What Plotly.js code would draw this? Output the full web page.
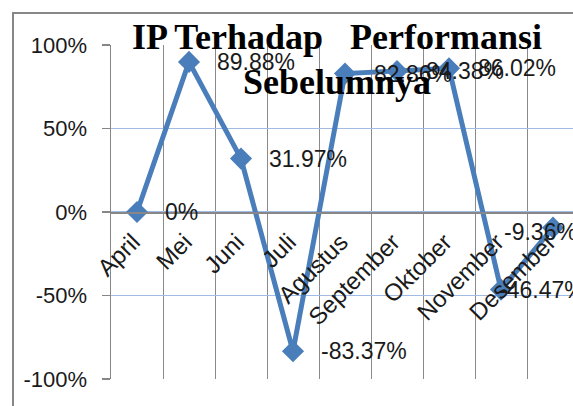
<!DOCTYPE html>
<html>
<head>
<meta charset="utf-8">
<script src="https://cdn.plot.ly/plotly-3.0.1.min.js"></script>
<style>
  html, body { margin: 0; padding: 0; background: #ffffff; overflow: hidden; }
  #chart { width: 600px; height: 406px; }
</style>
</head>
<body>
<div id="chart"></div>
<script>
// ---- data ----
var months = ["April", "Mei", "Juni", "Juli", "Agustus", "September", "Oktober", "November", "Desember"];
var ipValues = [0, 89.88, 31.97, -83.37, 82.86, 84.38, 86.02, -46.47, -9.36]; // percent
var yTickValues = [-100, -50, 0, 50, 100];
var titleLine1 = "IP Terhadap&nbsp;&nbsp;&nbsp;Performansi";
var titleLine2 = "Sebelumnya";

// ---- label placement (layout only) ----
var labelDx = [26, 26, 26, 26, 27, 27, 27, -4, -51];
var labelDy = [0, 0, 0, 0, 0, 0, 0, 0, 4];

var yFrac = ipValues.map(function (v) { return v / 100; });
function fmt(v) { return v === 0 ? "0%" : v.toFixed(2) + "%"; }

var blue = "#4a7ebb";
var gray = "#878787";
var sans = "Liberation Sans, Arial, sans-serif";
var serifFont = { family: "Liberation Serif, Times New Roman, serif", size: 36, weight: "bold", color: "#000000" };

var annotations = months.map(function (m, i) {
  return {
    x: m, y: yFrac[i], xref: "x", yref: "y",
    text: fmt(ipValues[i]), showarrow: false,
    xanchor: "left", yanchor: "middle",
    xshift: labelDx[i], yshift: -labelDy[i],
    font: { family: sans, size: 23, color: "#1a1a1a" }
  };
});
annotations.push({
  xref: "paper", yref: "paper", x: (337 - 111) / 468, y: (379 - 82) / 334,
  xanchor: "center", yanchor: "middle", showarrow: false,
  text: titleLine2, font: serifFont
});

var trace = {
  type: "scatter", mode: "lines+markers",
  x: months, y: yFrac,
  line: { color: blue, width: 5 },
  marker: { symbol: "diamond", size: 17, color: blue },
  cliponaxis: false,
  hoverinfo: "skip"
};

var layout = {
  width: 600, height: 406,
  margin: { l: 111, r: 21, t: 45, b: 27 },
  paper_bgcolor: "#ffffff", plot_bgcolor: "#ffffff",
  showlegend: false,
  title: {
    text: titleLine1,
    font: serifFont,
    xref: "container", x: 337 / 600, xanchor: "center",
    yref: "container", y: 1 - 24 / 406, yanchor: "top"
  },
  xaxis: {
    type: "category",
    categoryorder: "array", categoryarray: months,
    range: [-0.5, months.length - 0.5],
    anchor: "free", position: 0.5,
    showline: true, linecolor: gray, linewidth: 1.5,
    showgrid: true, gridcolor: "#8a8a8a", gridwidth: 1,
    tickson: "boundaries", ticks: "",
    tickangle: -45,
    ticklabelstandoff: 5, ticklabelshift: -4,
    tickfont: { family: sans, size: 24, color: "#1a1a1a" },
    zeroline: false, automargin: false, fixedrange: true
  },
  yaxis: {
    range: [-1, 1],
    tickvals: yTickValues.map(function (v) { return v / 100; }),
    ticktext: yTickValues.map(function (v) { return v + "%"; }),
    showline: true, linecolor: gray, linewidth: 1.5,
    ticks: "outside", ticklen: 8, tickcolor: gray, tickwidth: 1.5,
    ticklabelstandoff: 10,
    showgrid: true, gridcolor: "#a0bce4", gridwidth: 1.5,
    zeroline: false,
    tickfont: { family: sans, size: 22, color: "#1a1a1a" },
    automargin: false, fixedrange: true
  },
  annotations: annotations,
  shapes: [{
    type: "rect", xref: "paper", yref: "paper", layer: "below",
    x0: (13 - 111) / 468, x1: 2, y0: -0.5, y1: (379 - 13) / 334,
    line: { color: gray, width: 2 }, fillcolor: "rgba(0,0,0,0)"
  }]
};

Plotly.newPlot("chart", [trace], layout, { staticPlot: true, displayModeBar: false });
</script>
</body>
</html>
